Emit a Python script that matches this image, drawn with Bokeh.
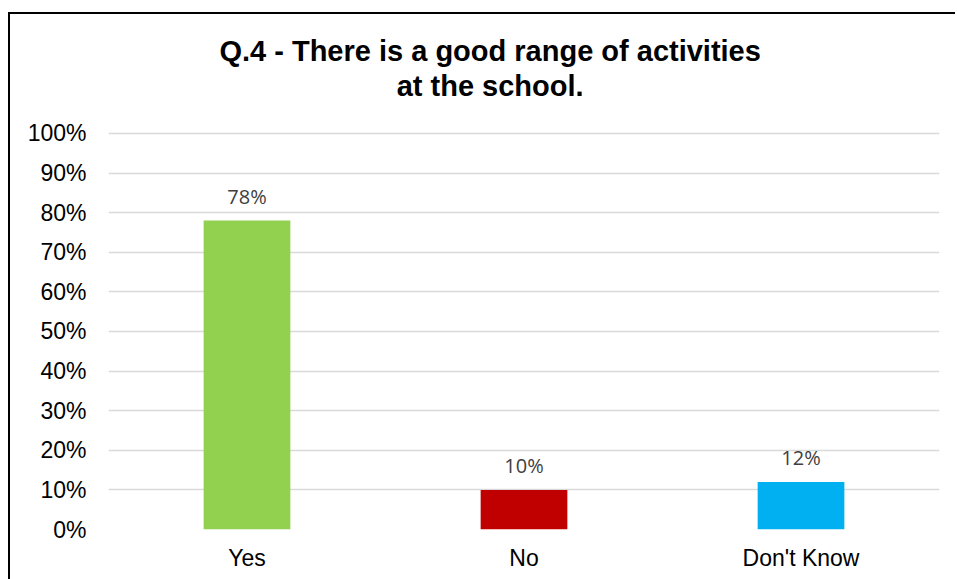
from bokeh.plotting import figure
from bokeh.models import (ColumnDataSource, LabelSet, FixedTicker,
                          NumeralTickFormatter, Range1d, Column)
from bokeh.embed import file_html
from bokeh.resources import INLINE
from bokeh.core.properties import value

# ---- data ----
categories = ["Yes", "No", "Don't Know"]
shares = [0.78, 0.10, 0.12]
share_labels = ["78%", "10%", "12%"]
bar_colors = ["#92D050", "#C00000", "#00B0F0"]
y_ticks = [0.0, 0.1, 0.2, 0.3, 0.4, 0.5, 0.6, 0.7, 0.8, 0.9, 1.0]
title_lines = ["Q.4 - There is a good range of activities", "at the school."]

W = 945
TH = 100   # title strip height
CH = 465   # chart height

# ---- title strip (pixel-mapped figure) ----
t = figure(width=W, height=TH, x_range=Range1d(0, W), y_range=Range1d(TH, 0),
           x_axis_type=None, y_axis_type=None, output_backend="svg",
           toolbar_location=None, min_border=0)
t.outline_line_color = None
t.border_fill_color = "white"
t.background_fill_color = "white"
t.grid.visible = False
t.text(x=[434, 434], y=[36, 71], text=title_lines,
       text_align="center", text_baseline="alphabetic",
       text_font=value("Liberation Sans"), text_font_style="bold",
       text_font_size="29px", text_color="#000000")

# ---- chart ----
source = ColumnDataSource(dict(cat=categories, val=shares, lab=share_labels, col=bar_colors))

p = figure(x_range=categories, y_range=Range1d(0, 1.005), width=W, height=CH,
           output_backend="svg", toolbar_location=None,
           min_border_left=98, min_border_right=16,
           min_border_top=17, min_border_bottom=50)
p.outline_line_color = None
p.background_fill_color = "white"
p.border_fill_color = "white"

p.vbar(x="cat", top="val", width=0.313, fill_color="col", line_color=None, source=source)

labels = LabelSet(x="cat", y="val", text="lab", source=source, text_align="center",
                  text_baseline="alphabetic", y_offset=17,
                  text_font=value("Open Sans"), text_font_size="20px", text_color="#404040")
p.add_layout(labels)

p.xgrid.grid_line_color = None
p.ygrid.grid_line_color = "#D9D9D9"
p.ygrid.grid_line_width = 1.5
p.yaxis.ticker = FixedTicker(ticks=y_ticks)
p.yaxis.formatter = NumeralTickFormatter(format="0%")
for ax in (p.xaxis[0], p.yaxis[0]):
    ax.axis_line_color = None
    ax.major_tick_line_color = None
    ax.minor_tick_line_color = None
    ax.major_tick_out = 0
    ax.major_tick_in = 0
    ax.minor_tick_out = 0
    ax.major_label_text_font = "Liberation Sans"
    ax.major_label_text_font_size = "23px"
    ax.major_label_text_color = "#000000"
p.yaxis.major_label_standoff = 22
p.xaxis.major_label_standoff = 15

layout = Column(t, p, spacing=0,
                styles={"margin-left": "8px", "margin-top": "12px",
                        "border-left": "2px solid #000000",
                        "border-top": "2px solid #000000"})

open("out.html", "w").write(file_html(layout, INLINE))
